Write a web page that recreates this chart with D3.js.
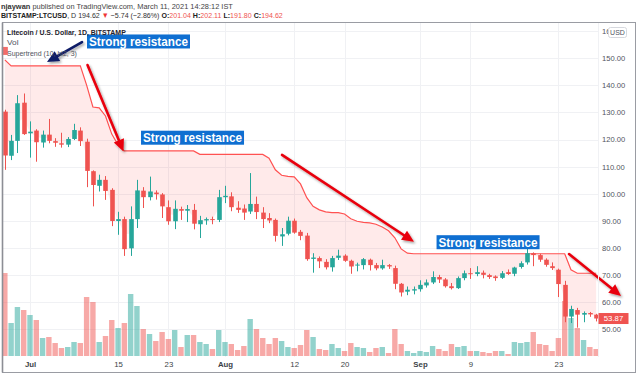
<!DOCTYPE html>
<html><head><meta charset="utf-8">
<script src="https://cdn.jsdelivr.net/npm/d3@7"></script>
<style>body{margin:0;background:#fff;} svg{display:block;font-family:"Liberation Sans",Arial,sans-serif;}</style>
</head><body><svg id="c" width="640" height="375"></svg>
<script>
// ---------------- DATA ----------------
const startDate = "2019-06-27", endDate = "2019-09-29";
const open = [130.3,114.0,119.5,133.6,
 122.3,123.3,118.9,121.8,119.4,118.6,118.1,120.2,123.3,119.2,108.3,102.9,105.1,101.4,89.9,90.6,79.8,90.6,101.1,98.7,100.4,99.7,95.0,89.8,94.3,93.7,94.0,88.7,90.1,90.6,90.3,
 98.7,99.0,94.8,94.5,93.4,96.2,93.0,91.0,90.3,84.2,85.2,90.0,85.9,84.5,75.9,76.2,74.8,72.8,76.3,77.1,75.2,73.5,73.6,75.6,73.6,72.4,73.6,72.5,66.7,63.8,64.2,
 64.7,66.1,67.2,69.2,68.3,65.8,65.1,68.8,70.6,70.3,70.8,69.9,69.4,68.9,71.0,70.4,72.9,74.6,78.0,77.3,75.6,73.2,71.9,66.3,54.6,57.0,55.3,55.9,55.3];
const close = [114.1,119.5,133.4,122.0,
 122.9,119.0,121.8,119.5,118.8,118.1,120.2,123.5,119.4,108.4,103.2,105.1,101.0,89.9,90.6,79.5,90.6,101.2,98.7,100.8,99.8,95.3,89.8,94.4,93.7,94.3,88.9,90.2,90.6,90.3,98.7,
 99.2,95.0,94.0,93.0,96.2,93.2,90.6,90.1,84.4,85.0,90.0,85.6,84.4,75.8,76.4,75.0,72.8,76.2,77.1,75.2,73.1,73.8,75.8,73.6,72.4,73.6,73.1,66.7,63.5,64.5,64.7,
 66.3,67.2,69.2,68.3,65.8,65.1,68.8,70.6,70.3,71.0,70.0,69.2,68.8,70.6,70.3,72.7,74.3,78.0,77.3,75.6,73.7,72.5,66.6,54.6,57.4,55.3,55.9,55.4,53.87];
const high = [131.0,121.7,136.4,137.0,
 126.7,123.8,123.3,127.6,120.5,122.5,120.9,125.8,124.5,120.3,108.6,107.0,106.5,102.0,93.3,91.5,95.3,105.1,102.4,106.3,101.2,100.2,97.5,97.5,95.2,95.8,96.2,91.8,91.2,91.5,101.4,
 102.9,100.5,97.2,96.0,107.6,98.9,95.0,92.8,90.8,87.3,91.5,90.8,86.6,85.5,78.0,76.8,75.8,77.0,79.3,77.6,75.6,74.5,76.2,76.0,74.4,75.6,74.0,73.4,67.0,65.7,65.7,
 68.0,68.3,71.3,70.0,68.8,67.0,69.4,71.6,72.5,73.2,71.6,70.4,69.8,71.4,72.0,73.0,75.0,79.6,78.3,77.8,76.1,74.6,72.3,67.8,58.6,57.8,56.5,56.3,55.6];
const low = [108.8,112.4,115.0,121.7,
 113.3,111.8,117.0,118.6,117.3,117.0,117.2,119.8,117.6,102.4,95.3,100.8,97.7,88.0,84.8,77.0,77.0,87.3,94.7,97.5,97.8,91.0,88.5,86.9,90.3,89.5,86.8,83.6,88.5,88.7,89.5,
 96.5,93.5,92.9,90.3,92.5,90.6,87.3,89.1,82.3,80.7,84.6,85.2,82.8,75.2,70.8,72.5,72.0,71.2,75.5,74.8,70.4,71.3,72.0,71.6,71.7,71.9,72.2,64.7,62.0,62.5,62.8,
 63.8,65.3,66.6,67.0,65.3,64.6,64.8,68.0,68.5,69.5,68.7,68.5,67.8,68.5,70.0,69.5,72.3,73.8,73.2,74.8,73.0,71.8,61.8,52.5,52.2,50.5,52.5,54.5,52.8];
const volume = [83,33,49,46,
 41,36,18,19,13,8,9,14,13,59,54,14,20,36,28,33,62,50,27,22,15,24,17,26,9,21,21,14,12,7,26,
 14,12,6,10,37,27,18,12,18,15,9,8,11,26,19,7,6,12,8,5,13,9,8,4,8,9,3,27,12,5,3,
 5,4,10,7,5,12,9,10,5,5,4,3,5,5,2,14,13,14,24,12,11,5,18,55,38,28,16,9,7];
const supertrend = [149.4,147.2,147.2,147.2,
 147.2,147.2,147.2,147.2,147.2,147.2,147.2,147.2,147.2,140.1,132.0,131.7,128.7,122.0,118.0,115.8,
 115.8,115.8,115.8,115.8,115.8,115.8,115.8,115.8,115.8,115.8,115.8,114.5,114.5,114.5,114.5,
 114.5,114.5,114.5,114.5,114.5,114.5,114.5,113.1,108.8,106.8,106.4,106.2,103.6,98.5,95.3,94.0,93.3,93.0,93.0,92.5,90.7,89.8,89.4,89.2,88.7,87.7,86.3,83.7,79.6,78.0,77.8,
 77.8,77.8,77.8,77.8,77.8,77.8,77.8,77.8,77.8,77.8,77.8,77.8,77.8,77.8,77.8,77.8,77.8,77.8,77.8,77.8,77.8,77.8,77.8,77.8,71.9,70.6,70.6,70.6,70.6];
const priceTicks = [50,60,70,80,90,100,110,120,130,140,150,160];
const dateTicks = ["2019-07-01","2019-07-15","2019-07-23","2019-08-01","2019-08-12","2019-08-20","2019-09-01","2019-09-09","2019-09-23"];
const dateTickLabels = ["Jul","15","23","Aug","12","20","Sep","9","23"];
const monthTicks = ["Jul","Aug","Sep"];
// annotations: [days after Jul 1, price]
const boxes = [
 {at:[9.06,158.8], text:"Strong resistance"},
 {at:[17.65,123.25], text:"Strong resistance"},
 {at:[64.63,84.65], text:"Strong resistance"}];
const arrows = [
 {from:[8.27,156.0], to:[2.70,148.6], color:"#0d1a66"},
 {from:[9.14,147.5], to:[14.86,115.6], color:"#e8000b"},
 {from:[40.06,114.3], to:[61.05,82.2], color:"#e8000b"},
 {from:[85.69,77.7], to:[93.96,62.2], color:"#e8000b"}];

// ---------------- SCALES ----------------
const parse = d3.utcParse("%Y-%m-%d");
const dates = d3.utcDay.range(parse(startDate), d3.utcDay.offset(parse(endDate),1));
const data = dates.map((d,i)=>({d, o:open[i], h:high[i], l:low[i], c:close[i], v:volume[i], st:supertrend[i]}));
const jul1 = parse("2019-07-01");
const x = d3.scaleUtc().domain([jul1, parse("2019-09-23")]).range([30, 558.4]);
const y = d3.scaleLinear().domain([50,150]).range([329,58.3]);
const vy = d3.scaleLinear().domain([0,83]).range([356,273]);
const xAt = k => x(new Date(jul1.getTime()+k*864e5));
const UP="#26a69a", DN="#ef5350";
const plot = {l:2, t:22.5, r:598, b:357};

const svg = d3.select("#c");
const defs = svg.append("defs");
defs.append("clipPath").attr("id","pc").append("rect")
  .attr("x",plot.l+0.5).attr("y",plot.t).attr("width",plot.r-plot.l).attr("height",plot.b-plot.t);
defs.append("clipPath").attr("id","usdclip").append("rect")
  .attr("x",598).attr("y",22).attr("width",10).attr("height",20);
const f = defs.append("filter").attr("id","sh").attr("x","-20%").attr("y","-20%").attr("width","140%").attr("height","140%");
f.append("feDropShadow").attr("dx",1.5).attr("dy",1.8).attr("stdDeviation",1.2).attr("flood-color","#000").attr("flood-opacity",0.35);

// grid
const grid = svg.append("g").attr("stroke","#f0f1f4").attr("stroke-width",1);
priceTicks.forEach(p=>grid.append("line").attr("x1",plot.l).attr("x2",plot.r).attr("y1",Math.round(y(p))+0.5).attr("y2",Math.round(y(p))+0.5));
dateTicks.forEach(t=>grid.append("line").attr("y1",plot.t).attr("y2",plot.b).attr("x1",Math.round(x(parse(t)))+0.5).attr("x2",Math.round(x(parse(t)))+0.5));

const pg = svg.append("g").attr("clip-path","url(#pc)");
// volume
pg.append("g").selectAll("rect").data(data).join("rect")
  .attr("x",d=>x(d.d)-2.7).attr("width",5.4)
  .attr("y",d=>vy(d.v)).attr("height",d=>vy(0)-vy(d.v))
  .attr("fill",d=>d.c>=d.o?UP:DN).attr("fill-opacity",0.5);
// supertrend fill + line
pg.append("path").datum(data)
  .attr("d",d3.area().x(d=>x(d.d)).y0(d=>y((d.o+d.c)/2)).y1(d=>y(d.st)))
  .attr("fill","rgba(255,82,82,0.12)");
pg.append("path").datum(data)
  .attr("d",d3.line().x(d=>x(d.d)).y(d=>y(d.st)))
  .attr("fill","none").attr("stroke","#ff5252").attr("stroke-width",1.2);
// candles
const cg = pg.append("g");
cg.selectAll("line").data(data).join("line")
  .attr("x1",d=>Math.round(x(d.d))+0.5).attr("x2",d=>Math.round(x(d.d))+0.5)
  .attr("y1",d=>y(d.h)).attr("y2",d=>y(d.l))
  .attr("stroke",d=>d.c>=d.o?UP:DN).attr("stroke-width",1);
cg.selectAll("rect").data(data).join("rect")
  .attr("x",d=>Math.round(x(d.d))+0.5-2.3).attr("width",4.6)
  .attr("y",d=>y(Math.max(d.o,d.c))).attr("height",d=>Math.max(1,Math.abs(y(d.o)-y(d.c))))
  .attr("fill",d=>d.c>=d.o?UP:DN);

// sell marker
svg.append("rect").attr("x",x(data[0].d)-3).attr("y",y(data[0].st)-13).attr("width",6).attr("height",8).attr("fill","#f05350").attr("opacity",0.85);

// arrows
arrows.forEach(a=>{
  const x1=xAt(a.from[0]), y1=y(a.from[1]), x2=xAt(a.to[0]), y2=y(a.to[1]);
  const ang=Math.atan2(y2-y1,x2-x1), L=12, Wd=5.5;
  const bx=x2-L*Math.cos(ang), by=y2-L*Math.sin(ang);
  const g=svg.append("g").attr("filter","url(#sh)");
  g.append("line").attr("x1",x1).attr("y1",y1).attr("x2",bx).attr("y2",by).attr("stroke",a.color).attr("stroke-width",2.6).attr("stroke-linecap","round");
  const px=-Math.sin(ang), py=Math.cos(ang);
  g.append("path").attr("d",`M${x2},${y2}L${bx+px*Wd},${by+py*Wd}L${bx-px*Wd},${by-py*Wd}Z`).attr("fill",a.color);
});

// resistance boxes
boxes.forEach(b=>{
  const bx=xAt(b.at[0]), by=y(b.at[1]);
  svg.append("rect").attr("x",bx).attr("y",by).attr("width",103).attr("height",14).attr("fill","#0f6fd1");
  svg.append("text").attr("x",bx+2).attr("y",by+11.3).attr("fill","#fff").attr("font-weight","bold")
    .attr("font-size",12.5).attr("textLength",99).attr("lengthAdjust","spacingAndGlyphs").text(b.text);
});

// price axis
const pa = svg.append("g").attr("transform","translate(602,0)")
  .call(d3.axisRight(y).tickValues(priceTicks).tickFormat(d3.format(".2f")).tickSize(0).tickPadding(0));
pa.select(".domain").remove();
pa.selectAll("text").attr("font-size",7.6).attr("fill","#50535e").attr("font-family","'Liberation Sans',Arial,sans-serif");
// top tick label is partly hidden behind the USD badge
pa.selectAll(".tick").filter(d=>d===160).attr("clip-path",null).select("text")
  .attr("clip-path",null);
pa.selectAll(".tick").filter(d=>d===160).each(function(){
  const t=d3.select(this); const tr=t.attr("transform");
  const wrap=svg.append("g").attr("clip-path","url(#usdclip)");
  const inner=wrap.append("g").attr("transform","translate(602,0) "+tr);
  inner.node().appendChild(t.select("text").node());
  t.remove();
});
svg.append("line").attr("x1",plot.r+0.5).attr("x2",plot.r+0.5).attr("y1",plot.t).attr("y2",plot.b).attr("stroke","#f0f1f4");
// USD badge
svg.append("rect").attr("x",608.5).attr("y",27.5).attr("width",18).attr("height",10).attr("rx",2).attr("fill","#fff").attr("stroke","#d6d8de");
svg.append("text").attr("x",617.5).attr("y",35.2).attr("text-anchor","middle").attr("font-size",7).attr("fill","#50535e").text("USD");
// last price label
const last = data[data.length-1];
svg.append("rect").attr("x",598.5).attr("y",y(last.c)-5.5).attr("width",30).attr("height",11).attr("fill",DN);
svg.append("text").attr("x",613.5).attr("y",y(last.c)+2.8).attr("text-anchor","middle").attr("font-size",7.8).attr("fill","#fff").text(d3.format(".2f")(last.c));

// time axis
const ta = svg.append("g").attr("transform","translate(0,361)")
  .call(d3.axisBottom(x).tickValues(dateTicks.map(parse)).tickFormat((d,i)=>dateTickLabels[i]).tickSize(0).tickPadding(0));
ta.select(".domain").remove();
ta.selectAll("text").attr("font-size",7.8).attr("fill","#3c3f47").attr("font-family","'Liberation Sans',Arial,sans-serif")
  .attr("font-weight",(d,i)=>monthTicks.includes(dateTickLabels[i])?"bold":"normal");

// frame
svg.append("rect").attr("x",plot.l+0.5).attr("y",plot.t).attr("width",633).attr("height",350).attr("fill","none").attr("stroke","#9a9ca3").attr("stroke-width",1);
svg.append("line").attr("x1",plot.l+0.5).attr("x2",plot.l+0.5).attr("y1",plot.t).attr("y2",plot.t+350).attr("stroke","#8c8e95").attr("stroke-width",1.6);

// header texts
function fitG(x0,yb,target,build){
  const g=svg.append("g"); const t=g.append("text").attr("font-size",8);
  build(t); const w=t.node().getComputedTextLength();
  g.attr("transform",`translate(${x0},${yb}) scale(${target/w},1)`);
}
fitG(1,8.6,232,t=>{
  t.append("tspan").attr("font-weight","bold").attr("fill","#333").text("njaywan");
  t.append("tspan").attr("fill","#444").text(" published on TradingView.com, March 11, 2021 14:28:12 IST");
});
fitG(1,18,282,t=>{
  t.append("tspan").attr("font-weight","bold").attr("fill","#222").text("BITSTAMP:LTCUSD");
  t.append("tspan").attr("fill","#333").text(", D 194.62 ");
  t.append("tspan").attr("fill","#ef3535").text("▼");
  t.append("tspan").attr("fill","#333").text(" −5.74 (−2.86%) ");
  [["O:","201.04 "],["H:","202.11 "],["L:","191.80 "],["C:","194.62"]].forEach(([k,v])=>{
    t.append("tspan").attr("font-weight","bold").attr("fill","#222").text(k);
    t.append("tspan").attr("fill","#ef5350").text(v);
  });
});
fitG(7,35.2,119,t=>t.attr("font-weight","bold").attr("fill","#1e222d").text("Litecoin / U.S. Dollar, 1D, BITSTAMP"));
fitG(7,45.4,11.5,t=>t.attr("fill","#50535e").text("Vol"));
fitG(7,55.6,70,t=>t.attr("fill","#50535e").text("Supertrend (10, hl2, 3)"));
</script></body></html>
